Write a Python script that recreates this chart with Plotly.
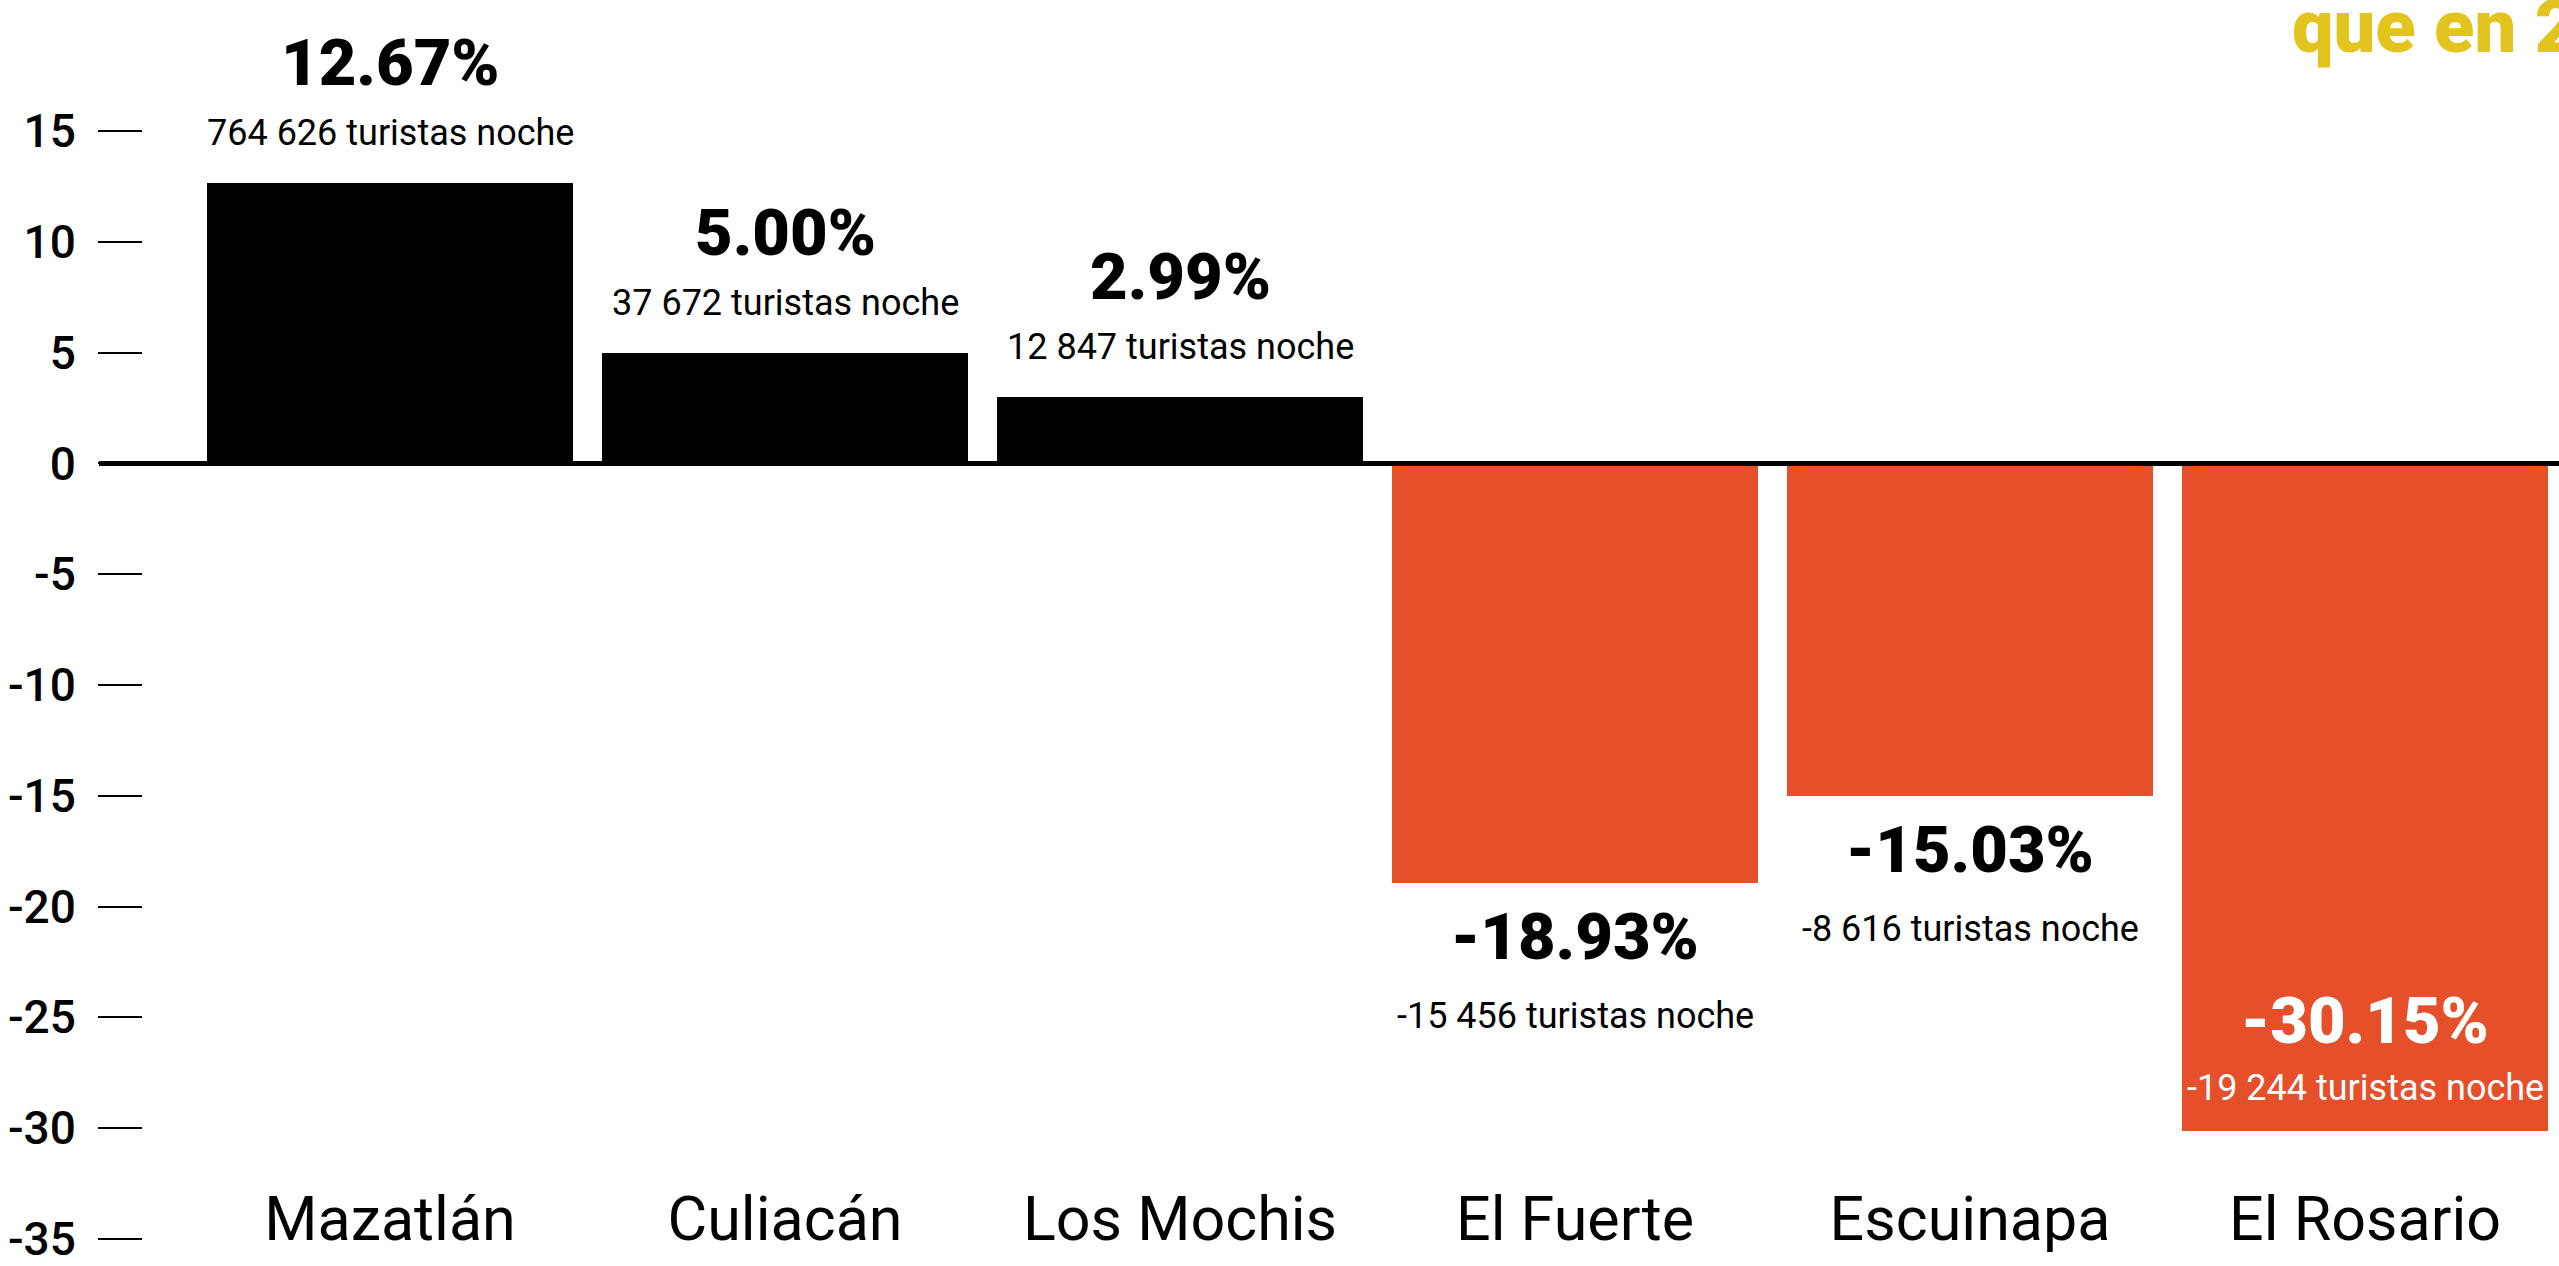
import plotly.graph_objects as go

# ---- data ----
categories = ["Mazatlán", "Culiacán", "Los Mochis", "El Fuerte", "Escuinapa", "El Rosario"]
values = [12.67, 5.00, 2.99, -18.93, -15.03, -30.15]
tourists = ["764 626", "37 672", "12 847", "-15 456", "-8 616", "-19 244"]
label_inside = [False, False, False, False, False, True]
y_ticks = [15, 10, 5, 0, -5, -10, -15, -20, -25, -30, -35]
title_fragment = "que en 2"

# ---- style ----
FONT = "Roboto, Liberation Sans, Arial, sans-serif"
BLACK = "#000000"
ORANGE = "#E5502A"
YELLOW = "#E3C41F"

W, H = 2559, 1266
ML, MR, MT, MB = 143, 0, 109, 1

bar_colors = [BLACK if v >= 0 else ORANGE for v in values]

fig = go.Figure()
fig.add_trace(go.Bar(
    x=categories, y=values, width=0.927,
    marker=dict(color=bar_colors, line=dict(width=0)),
    hoverinfo="skip", showlegend=False,
))

PCT_SIZE = 65
SUB_SIZE = 36

annotations = []
for cat, v, t, inside in zip(categories, values, tourists, label_inside):
    pct = f"{v:.2f}%"
    sub = f"{t} turistas noche"
    if v >= 0:
        annotations.append(dict(x=cat, y=v, xref="x", yref="y", text=pct, showarrow=False,
                                yanchor="bottom", yshift=80,
                                font=dict(family=FONT, size=PCT_SIZE, color=BLACK, weight=900)))
        annotations.append(dict(x=cat, y=v, xref="x", yref="y", text=sub, showarrow=False,
                                yanchor="bottom", yshift=27,
                                font=dict(family=FONT, size=SUB_SIZE, color=BLACK)))
    elif inside:
        annotations.append(dict(x=cat, y=v, xref="x", yref="y", text=pct, showarrow=False,
                                yanchor="bottom", yshift=70,
                                font=dict(family=FONT, size=PCT_SIZE, color="white", weight=900)))
        annotations.append(dict(x=cat, y=v, xref="x", yref="y", text=sub, showarrow=False,
                                yanchor="bottom", yshift=20,
                                font=dict(family=FONT, size=SUB_SIZE, color="white")))
    else:
        annotations.append(dict(x=cat, y=v, xref="x", yref="y", text=pct, showarrow=False,
                                yanchor="top", yshift=-14,
                                font=dict(family=FONT, size=PCT_SIZE, color=BLACK, weight=900)))
        annotations.append(dict(x=cat, y=v, xref="x", yref="y", text=sub, showarrow=False,
                                yanchor="top", yshift=-110,
                                font=dict(family=FONT, size=SUB_SIZE, color=BLACK)))

plot_w = W - ML - MR
plot_h = H - MT - MB
annotations.append(dict(
    x=(2290 - ML) / plot_w, y=1 + (MT - 72) / plot_h, xref="paper", yref="paper",
    xanchor="left", yanchor="bottom", text=title_fragment, showarrow=False,
    font=dict(family=FONT, size=74, color=YELLOW, weight=900),
))

fig.update_layout(
    width=W, height=H,
    margin=dict(l=ML, r=MR, t=MT, b=MB, pad=0),
    paper_bgcolor="white", plot_bgcolor="white",
    bargap=0,
    annotations=annotations,
    shapes=[dict(type="line", xref="paper", yref="y",
                 x0=(99 - ML) / plot_w, x1=1, y0=0, y1=0,
                 line=dict(color=BLACK, width=5), layer="above")],
    xaxis=dict(
        type="category", range=[-0.6253, 5.491],
        anchor="free", position=(H - MB - 1182) / plot_h,
        showgrid=False, zeroline=False, showline=False, ticks="",
        tickfont=dict(family=FONT, size=61, color=BLACK),
        fixedrange=True,
    ),
    yaxis=dict(
        range=[-36, 16], tickvals=y_ticks, ticktext=[str(t) for t in y_ticks],
        showgrid=False, zeroline=False, showline=False,
        ticks="outside", ticklen=44, tickwidth=2, tickcolor=BLACK,
        ticklabelstandoff=13, ticklabeloverflow="allow",
        tickfont=dict(family=FONT, size=46, color=BLACK, weight=500),
        fixedrange=True,
    ),
)

fig.write_html("out.html", config={"displayModeBar": False},
               post_script="document.body.style.margin='0';document.body.style.overflow='hidden';")
